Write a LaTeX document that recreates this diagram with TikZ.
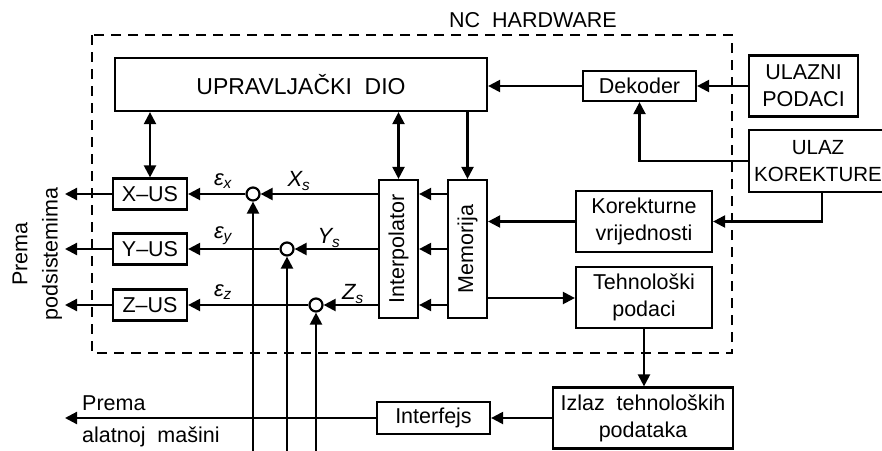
\documentclass[tikz,border=0pt]{standalone}
\usepackage{fontspec}
\setmainfont{Liberation Sans}
\usetikzlibrary{arrows.meta,calc}
\newcommand\myfs{\fontsize{21.5}{27}\selectfont}
\newcommand\mybig{\fontsize{23}{28}\selectfont}
\newcommand\mylab{\fontsize{22}{26}\selectfont}
\newcommand\mykor{\fontsize{20.5}{27}\selectfont}
\tikzset{
  box/.style={draw, line width=2.2pt, inner sep=0pt, align=center, font=\myfs},
  conn/.style={line width=2.2pt, -{Triangle[length=12pt,width=12pt]}},
  dconn/.style={line width=2.2pt, {Triangle[length=12pt,width=12pt]}-{Triangle[length=12pt,width=12pt]}},
  sumc/.style={draw, circle, line width=2.2pt, minimum size=13pt, inner sep=0pt},
  lab/.style={font=\mylab, inner sep=0pt},
  txt/.style={font=\myfs, inner sep=0pt},
  hwline/.style={line width=2.2pt, dash pattern=on 10pt off 7pt},
}
\begin{document}
\begin{tikzpicture}[x=1pt,y=-1pt]
\useasboundingbox (0,0) rectangle (882,450);
\clip (0,0) rectangle (882,450);
% hardware frame
\draw[hwline] (92,35) rectangle (732,353);
\node[txt] (nc) at (533,20) {NC\ \ HARDWARE};
% boxes
\node[box, minimum width=372, minimum height=53, font=\mybig] (upr) at (301,84.5) {UPRAVLJAČKI\ \ DIO};
\node[box, minimum width=113, minimum height=30] (dek) at (639.5,86) {Dekoder};
\node[box, minimum width=109, minimum height=61] (ulp) at (803.5,86) {ULAZNI\\PODACI};
\node[box, minimum width=138, minimum height=62, font=\mykor] (ulk) at (818,161) {ULAZ\\KOREKTURE};
\node[box, minimum width=136, minimum height=61] (kor) at (644,221.5) {Korekturne\\vrijednosti};
\node[box, minimum width=136, minimum height=61] (teh) at (644,297.5) {Tehnološki\\podaci};
\node[box, minimum width=180, minimum height=61] (izl) at (643,418) {Izlaz\ \ tehnoloških\\podataka};
\node[box, minimum width=113, minimum height=32] (itf) at (433.5,418) {Interfejs};
\node[box, minimum width=138, minimum height=39, rotate=90] (mem) at (467.5,249) {Memorija};
\node[box, minimum width=138, minimum height=39, rotate=90] (ipl) at (398.5,249) {Interpolator};
\node[box, minimum width=74, minimum height=31] (xus) at (150,194) {X–US};
\node[box, minimum width=74, minimum height=31] (yus) at (150,249) {Y–US};
\node[box, minimum width=74, minimum height=31] (zus) at (150,305) {Z–US};
\node[sumc] (cx) at (253,194) {};
\node[sumc] (cy) at (287,249) {};
\node[sumc] (cz) at (316,305) {};
% labels
\node[lab] (ex) at (223,181) {\textit{ε\textsubscript{x}}};
\node[lab] (xs) at (299,181) {\textit{X\textsubscript{s}}};
\node[lab] (ey) at (223,236) {\textit{ε\textsubscript{y}}};
\node[lab] (ys) at (329,238) {\textit{Y\textsubscript{s}}};
\node[lab] (ez) at (223,292) {\textit{ε\textsubscript{z}}};
\node[lab] (zs) at (353,294) {\textit{Z\textsubscript{s}}};
\node[txt, rotate=90] (pr1) at (20,254) {Prema};
\node[txt, rotate=90] (pr2) at (52,254) {podsistemima};
\node[txt, anchor=west] (pa1) at (82,403) {Prema};
\node[txt, anchor=west] (pa2) at (82,437) {alatnoj\ \ mašini};
% coordinates
\coordinate (ox) at (65,194);
\coordinate (oy) at (65,249);
\coordinate (oz) at (65,305);
\coordinate (oa) at (65,418);
\coordinate (bx) at (253,455);
\coordinate (by) at (287,455);
\coordinate (bz) at (316,455);
\coordinate (kx) at (822,0);
\coordinate (r1) at (0,194);
\coordinate (r2) at (0,249);
\coordinate (r3) at (0,305);
\coordinate (rt) at (0,298);
% connectors top (rotated nodes: north = left side, south = right side, east = top)
\draw[conn] (dek.west) -- (dek.west -| upr.east);
\draw[conn] (ulp.west |- dek.east) -- (dek.east);
\draw[conn] (ulk.west) -| (dek.south);
\draw[conn] (kx |- ulk.south) |- (kor.east);
\draw[conn] (kor.west) -- (kor.west -| mem.south);
\draw[conn] (mem.south |- rt) -- (rt -| teh.west);
\draw[conn] (teh.south) -- (teh.south |- izl.north);
\draw[conn] (izl.west) -- (itf.east);
\draw[conn] (itf.west) -- (oa);
\draw[dconn] (upr.south -| xus.north) -- (xus.north);
\draw[dconn] (upr.south -| ipl.east) -- (ipl.east);
\draw[conn] (upr.south -| mem.east) -- (mem.east);
% memory to interpolator
\draw[conn] (mem.north |- r1) -- (ipl.south |- r1);
\draw[conn] (mem.north |- r2) -- (ipl.south |- r2);
\draw[conn] (mem.north |- r3) -- (ipl.south |- r3);
% interpolator to comparators
\draw[conn] (ipl.north |- cx) -- (cx.east);
\draw[conn] (ipl.north |- cy) -- (cy.east);
\draw[conn] (ipl.north |- cz) -- (cz.east);
\draw[conn] (cx.west) -- (xus.east);
\draw[conn] (cy.west) -- (yus.east);
\draw[conn] (cz.west) -- (zus.east);
\draw[conn] (xus.west) -- (ox);
\draw[conn] (yus.west) -- (oy);
\draw[conn] (zus.west) -- (oz);
% feedback
\draw[conn] (bx) -- (cx.south);
\draw[conn] (by) -- (cy.south);
\draw[conn] (bz) -- (cz.south);
\end{tikzpicture}
\end{document}
